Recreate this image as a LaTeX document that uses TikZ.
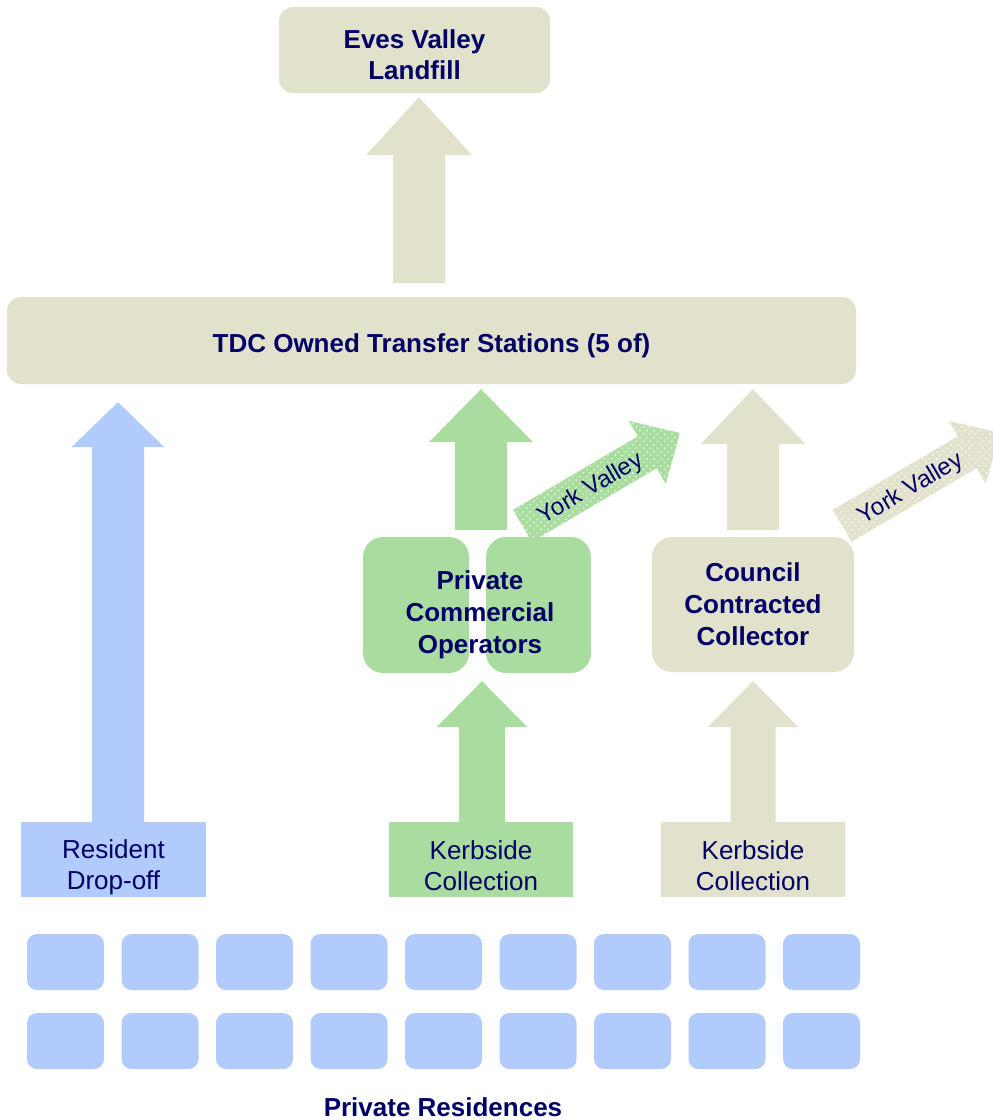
\documentclass[tikz,border=0pt]{standalone}
\usepackage{fontspec}
\setmainfont{Liberation Sans}
\usetikzlibrary{calc, patterns.meta}

\definecolor{wastetan}{RGB}{225,225,204}
\definecolor{wastegreen}{RGB}{169,221,159}
\definecolor{wasteblue}{RGB}{177,203,252}
\definecolor{textnavy}{RGB}{0,0,102}

% block arrow: style, tail, tip, shaft half width, head half width, head length
\newcommand{\blockarrow}[6]{%
    \coordinate (ba tail) at #2;
    \coordinate (ba tip) at #3;
    \coordinate (ba head) at ($(ba tip)!#6!(ba tail)$);
    \path[#1] ($(ba tail)!#4!90:(ba tip)$) -- ($(ba head)!#4!90:(ba tip)$)
        -- ($(ba head)!#5!90:(ba tip)$) -- (ba tip)
        -- ($(ba head)!#5!-90:(ba tip)$) -- ($(ba head)!#4!-90:(ba tip)$)
        -- ($(ba tail)!#4!-90:(ba tip)$) -- cycle;
}

\tikzset{
    box/.style={fill=#1, text=textnavy, align=center, inner sep=0pt, text depth=0pt,
        font=\fontsize{26}{31}\selectfont},
    roundbox/.style={box=#1, rounded corners=14pt},
    bold/.style={font=\fontsize{26}{#1}\selectfont\bfseries},
    house/.style={fill=wasteblue, rounded corners=10pt, minimum width=77pt, minimum height=56pt},
    dotted arrow/.style={fill=#1, postaction={pattern={Dots[distance=5pt, radius=1.2pt, angle=45]}, pattern color=white!55!#1}},
    yorklabel/.style={text=textnavy, rotate=30.6, font=\fontsize{24}{28}\selectfont},
}

\begin{document}
\begin{tikzpicture}[x=1pt, y=-1pt]
    \clip (0,0) rectangle (993,1120);

    % boxes
    \node[roundbox=wastetan, minimum width=271pt, minimum height=86pt, bold=31, text height=58pt] (landfill) at (414.5,50) {Eves Valley\\Landfill};
    \node[roundbox=wastetan, minimum width=849pt, minimum height=87pt, bold=31, text height=23pt] (tdc) at (431.5,340.5) {TDC Owned Transfer Stations (5 of)};

    \node[roundbox=wastegreen, rounded corners=20pt, minimum width=106pt, minimum height=136pt] (pcoL) at (416,605) {};
    \node[roundbox=wastegreen, rounded corners=20pt, minimum width=105pt, minimum height=136pt] (pcoR) at (538.5,605) {};
    \node[text=textnavy, align=center, inner sep=0pt, text depth=0pt, bold=32] (pco) at (480,612) {Private\\Commercial\\Operators};
    \node[roundbox=wastetan, rounded corners=20pt, minimum width=202pt, minimum height=135pt, bold=32] (ccc) at (753,604.5) {Council\\Contracted\\Collector};

    \node[box=wasteblue, minimum width=185pt, minimum height=75pt, text height=60pt] (resdrop) at (113.5,859.5) {Resident\\Drop-off};
    \node[box=wastegreen, minimum width=184pt, minimum height=75pt, text height=61pt] (kerbA) at (481,859.5) {Kerbside\\Collection};
    \node[box=wastetan, minimum width=184pt, minimum height=75pt, text height=61pt] (kerbB) at (753,859.5) {Kerbside\\Collection};

    % houses
    \foreach \col in {0,...,8}
        \foreach \row in {0,1}
            \node[house] (h\col\row) at ({65.5+94.5*\col},{962+79*\row}) {};
    \node[text=textnavy, bold=31] (residences) at (443,1107) {Private Residences};

    % flows
    \blockarrow{fill=wastetan}{($(landfill.south |- tdc.north)+(4.5,-14)$)}{($(landfill.south)+(4.5,4)$)}{26pt}{53pt}{58pt}
    \blockarrow{fill=wasteblue}{($(resdrop.north)+(4.5,0)$)}{($(resdrop.north |- tdc.south)+(4.5,18)$)}{26pt}{46.5pt}{45pt}
    \blockarrow{fill=wastegreen}{($(pco |- pcoL.north)+(1,-7)$)}{($(pco |- tdc.south)+(1,5)$)}{26pt}{52pt}{53pt}
    \blockarrow{fill=wastegreen}{($(kerbA.north)+(1,0)$)}{($(kerbA.north |- pcoL.south)+(1,8)$)}{23pt}{45.5pt}{46pt}
    \blockarrow{fill=wastetan}{($(ccc.north)+(0,-7)$)}{($(ccc.north |- tdc.south)+(0,5)$)}{26pt}{52.5pt}{55pt}
    \blockarrow{fill=wastetan}{(kerbB.north)}{($(kerbB.north |- ccc.south)+(0,9)$)}{22.5pt}{45.5pt}{46pt}

    % york valley
    \coordinate (yv1) at (680,433);
    \coordinate (yv2) at (1000,433);
    \blockarrow{dotted arrow=wastegreen}{($(pcoR.north)+(-16,-11)$)}{(yv1)}{18.5pt}{36.5pt}{38pt}
    \node[yorklabel] (yvtext1) at (591,489) {York Valley};
    \blockarrow{dotted arrow=wastetan}{($(ccc.north east)+(-12,-11)$)}{(yv2)}{18.5pt}{36.5pt}{38pt}
    \node[yorklabel] (yvtext2) at (911,489) {York Valley};
\end{tikzpicture}
\end{document}
